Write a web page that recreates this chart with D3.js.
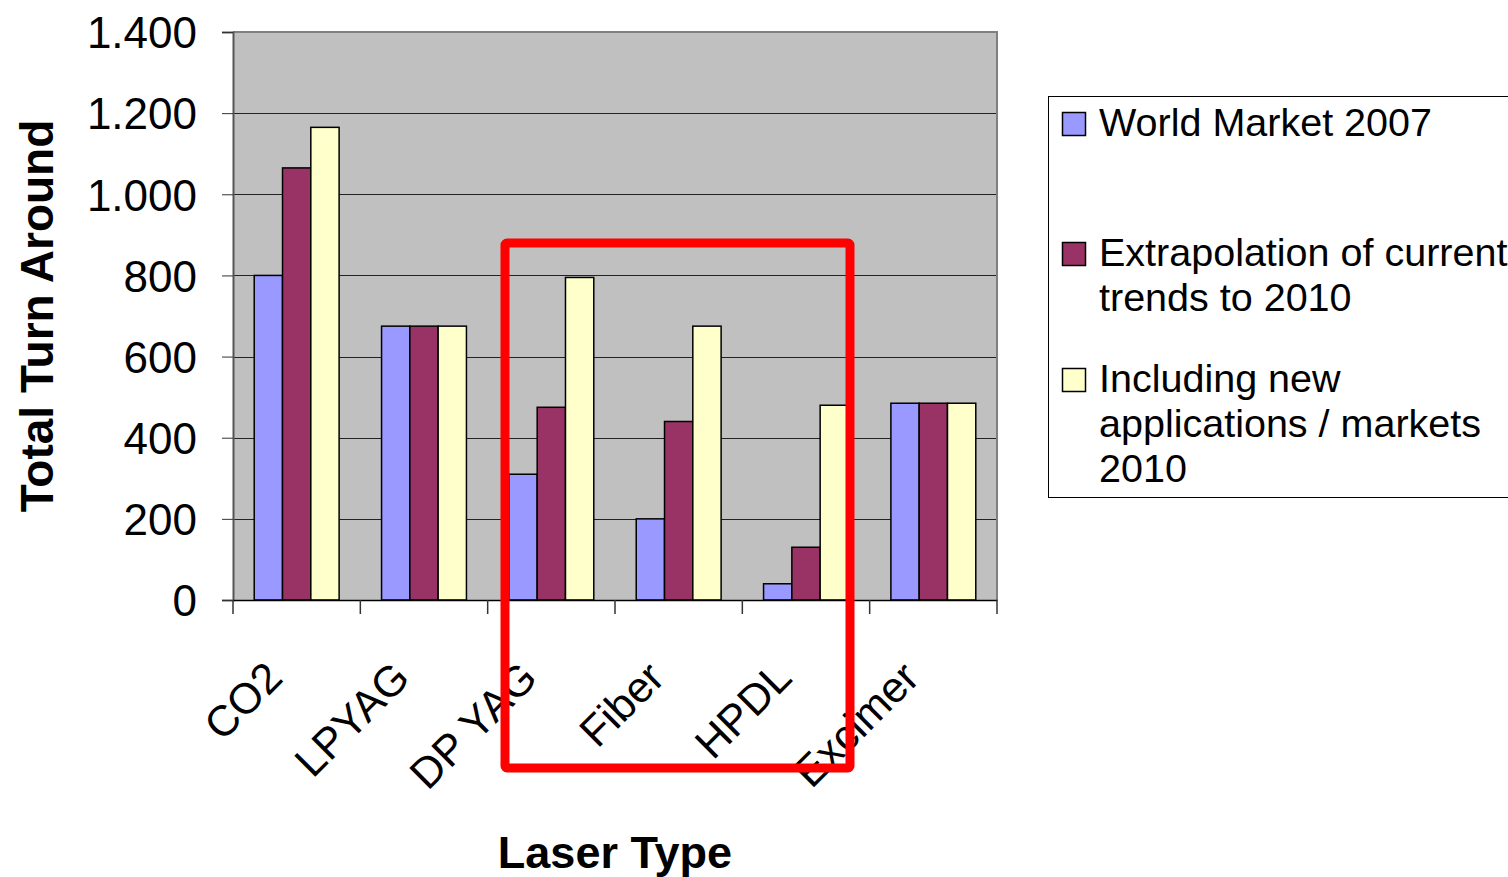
<!DOCTYPE html>
<html>
<head>
<meta charset="utf-8">
<script src="https://cdn.jsdelivr.net/npm/d3@7"></script>
<style>
  body { margin: 0; background: #fff; }
  text { font-family: "Liberation Sans", Arial, sans-serif; }
</style>
</head>
<body>
<div id="chart"></div>
<script>
var categories = ["CO2", "LPYAG", "DP YAG", "Fiber", "HPDL", "Excimer"];
var market2007 = [800, 675, 310, 200, 40, 485];
var trend2010 = [1065, 675, 475, 440, 130, 485];
var newApps2010 = [1165, 675, 795, 675, 480, 485];
var seriesNames = [
    ["World Market 2007"],
    ["Extrapolation of current", "trends to 2010"],
    ["Including new", "applications / markets", "2010"]
];
var yTicks = [0, 200, 400, 600, 800, 1000, 1200, 1400];

var width = 1508, height = 877;
var colors = ["#9999FF", "#993366", "#FFFFCC"];
var series = [market2007, trend2010, newApps2010];

var svg = d3.select("#chart").append("svg")
    .attr("width", width)
    .attr("height", height);

var plotL = 233, plotR = 997, plotT = 32, plotB = 600;

var xScale = d3.scaleBand()
    .domain(categories)
    .range([plotL, plotR]);
var step = xScale.step();
var barW = step / 4.5;

var yScale = d3.scaleLinear()
    .domain([0, 1400])
    .range([plotB, plotT]);

var fmt = d3.formatLocale({ decimal: ",", thousands: ".", grouping: [3], currency: ["", ""] }).format(",");

// plot background
svg.append("rect")
    .attr("x", plotL).attr("y", plotT)
    .attr("width", plotR - plotL).attr("height", plotB - plotT)
    .attr("fill", "#C0C0C0");

// grid lines
svg.selectAll(".grid")
    .data(yTicks.filter(d => d > 0 && d < 1400))
    .enter()
    .append("line")
    .attr("x1", plotL).attr("x2", plotR)
    .attr("y1", d => Math.round(yScale(d)) + 0.5)
    .attr("y2", d => Math.round(yScale(d)) + 0.5)
    .attr("stroke", "#222")
    .attr("stroke-width", 1);

// top and right border
svg.append("path")
    .attr("d", "M" + plotL + "," + plotT + "H" + plotR + "V" + plotB)
    .attr("fill", "none")
    .attr("stroke", "#808080")
    .attr("stroke-width", 2);

// bars
var barData = [];
categories.forEach((c, i) => {
    series.forEach((s, k) => {
        barData.push({ cat: c, k: k, value: s[i] });
    });
});
svg.selectAll(".bar")
    .data(barData)
    .enter()
    .append("rect")
    .attr("x", d => xScale(d.cat) + barW * 0.75 + d.k * barW)
    .attr("y", d => yScale(d.value))
    .attr("width", barW)
    .attr("height", d => yScale(0) - yScale(d.value))
    .attr("fill", d => colors[d.k])
    .attr("stroke", "#000")
    .attr("stroke-width", 1.5);

// y axis
var yAxis = d3.axisLeft(yScale)
    .tickValues(yTicks)
    .tickSize(11)
    .tickPadding(25)
    .tickFormat(fmt);
var yG = svg.append("g")
    .attr("transform", "translate(" + plotL + ",0)")
    .call(yAxis);
yG.select(".domain").attr("stroke", "#555").attr("stroke-width", 2);
yG.selectAll(".tick line").attr("stroke", "#333");
yG.selectAll(".tick text")
    .attr("font-size", 44)
    .attr("fill", "#000")
    .attr("dy", "0.36em")
    .style("font-family", "'Liberation Sans', Arial, sans-serif");

// x axis
var xAxis = d3.axisBottom(xScale).tickSize(0).tickFormat("");
var xG = svg.append("g")
    .attr("transform", "translate(0," + plotB + ")")
    .call(xAxis);
xG.select(".domain").attr("stroke", "#000").attr("stroke-width", 1.5);
svg.selectAll(".xtick")
    .data(d3.range(categories.length + 1))
    .enter()
    .append("line")
    .attr("x1", d => plotL + d * step)
    .attr("x2", d => plotL + d * step)
    .attr("y1", plotB)
    .attr("y2", plotB + 14)
    .attr("stroke", "#333")
    .attr("stroke-width", 1.5);

svg.selectAll(".xlabel")
    .data(categories)
    .enter()
    .append("text")
    .attr("transform", d => "translate(" + (xScale(d) + step / 2 - 12) + "," + (plotB + 80) + ") rotate(-45)")
    .attr("text-anchor", "end")
    .attr("font-size", 43)
    .text(d => d);

// axis titles
svg.append("text")
    .attr("transform", "translate(53," + ((plotT + plotB) / 2) + ") rotate(-90)")
    .attr("text-anchor", "middle")
    .attr("font-size", 46)
    .attr("font-weight", "bold")
    .text("Total Turn Around");

svg.append("text")
    .attr("x", (plotL + plotR) / 2)
    .attr("y", 868)
    .attr("text-anchor", "middle")
    .attr("font-size", 45)
    .attr("font-weight", "bold")
    .text("Laser Type");

// legend
var legend = svg.append("g");
legend.append("rect")
    .attr("x", 1048.5).attr("y", 96.5)
    .attr("width", 480).attr("height", 401)
    .attr("fill", "#fff")
    .attr("stroke", "#000")
    .attr("stroke-width", 1);
var legendBase = [136, 266, 392];
seriesNames.forEach((lines, k) => {
    legend.append("rect")
        .attr("x", 1062.5).attr("y", legendBase[k] - 23.5)
        .attr("width", 23).attr("height", 23)
        .attr("fill", colors[k])
        .attr("stroke", "#000")
        .attr("stroke-width", 1.5);
    lines.forEach((t, j) => {
        legend.append("text")
            .attr("x", 1099)
            .attr("y", legendBase[k] + j * 45)
            .attr("font-size", 39.5)
            .text(t);
    });
});

// red highlight box (annotation)
svg.append("rect")
    .attr("x", 505).attr("y", 243)
    .attr("width", 345).attr("height", 525)
    .attr("fill", "none")
    .attr("stroke", "#FF0000")
    .attr("stroke-width", 9)
    .attr("rx", 2);
</script>
</body>
</html>
